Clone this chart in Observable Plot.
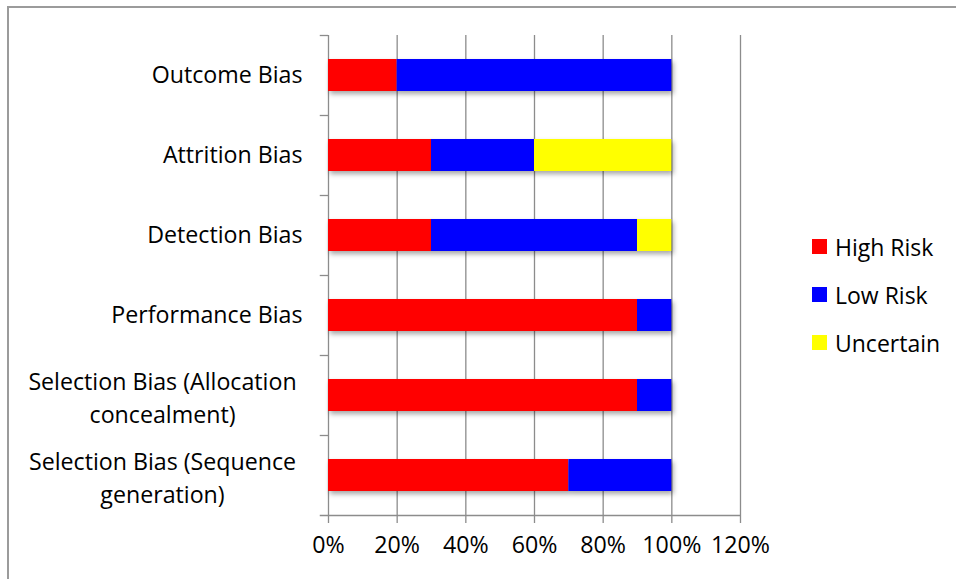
<!DOCTYPE html>
<html>
<head>
<meta charset="utf-8">
<script src="https://cdn.jsdelivr.net/npm/d3@7"></script>
<script src="https://cdn.jsdelivr.net/npm/@observablehq/plot@0.6"></script>
<style>
  html, body { margin: 0; padding: 0; background: #fff; }
  #chart { position: relative; width: 956px; height: 579px; overflow: hidden; font-family: "Open Sans", sans-serif; color: #000; }
  #frame { position: absolute; left: 7px; top: 6px; width: 1200px; height: 1200px; border: 2px solid #9b9b9b; box-sizing: border-box; pointer-events: none; }
  #plot { position: absolute; left: 0; top: 0; }
  #legend { position: absolute; left: 812px; top: 239px; font-size: 23px; }
  .item { display: flex; align-items: center; height: 15px; margin-bottom: 33px; white-space: nowrap; }
  .swatch { width: 15px; height: 15px; margin-right: 8px; flex: none; }
</style>
</head>
<body>
<div id="chart">
  <div id="frame"></div>
  <div id="plot"></div>
  <div id="legend"></div>
</div>
<script>
// Risk-of-bias domains, top to bottom
const domains = [
  "Outcome Bias",
  "Attrition Bias",
  "Detection Bias",
  "Performance Bias",
  "Selection Bias (Allocation\nconcealment)",
  "Selection Bias (Sequence\ngeneration)"
];

// Share of studies in each judgement, per domain
const highRisk  = [0.2, 0.3, 0.3, 0.9, 0.9, 0.7];
const lowRisk   = [0.8, 0.3, 0.6, 0.1, 0.1, 0.3];
const uncertain = [0.0, 0.4, 0.1, 0.0, 0.0, 0.0];

const riskLevels = ["High Risk", "Low Risk", "Uncertain"];
const riskColors = ["#ff0000", "#0000ff", "#ffff00"];

const xTicks = [0, 0.2, 0.4, 0.6, 0.8, 1.0, 1.2];

// Long table for the stacked bars
const series = [highRisk, lowRisk, uncertain];
const rows = [];
domains.forEach((domain, i) => {
  riskLevels.forEach((level, j) => {
    rows.push({domain, level, value: series[j][i]});
  });
});

const fontSize = 23.2;
const gridColor = "#8c8c8c";
const multiLine = domains.filter(d => d.includes("\n"));
const singleLine = domains.filter(d => !d.includes("\n"));

const chart = Plot.plot({
  width: 956,
  height: 579,
  marginLeft: 328,
  marginRight: 216,
  marginTop: 35,
  marginBottom: 64,
  style: {fontFamily: "'Open Sans', sans-serif", fontSize: fontSize + "px", color: "#000", background: "transparent"},
  x: {domain: [0, 1.2], axis: null},
  y: {domain: domains, axis: null, paddingInner: 0.6, paddingOuter: 0.3},
  color: {domain: riskLevels, range: riskColors},
  marks: [
    // vertical gridlines, extended below the axis as tick marks
    Plot.ruleX(xTicks, {x: d => d, stroke: gridColor, strokeWidth: 1.3, insetBottom: -8}),
    // category boundary ticks on the left axis
    Plot.ruleY(domains, {y: d => d, dy: -40, x1: -0.024, x2: 0, stroke: gridColor, strokeWidth: 1.3}),
    // horizontal axis line
    Plot.ruleY([domains[domains.length - 1]], {y: d => d, dy: 40, x1: -0.024, x2: 1.2, stroke: gridColor, strokeWidth: 1.3}),
    // stacked bars
    Plot.barX(rows, Plot.stackX({y: "domain", x: "value", fill: "level", order: riskLevels})),
    // x tick labels
    Plot.text(xTicks, {x: d => d, frameAnchor: "bottom", dy: 37, text: d => d3.format(".0%")(d), fontSize, fill: "#000"}),
    // category labels
    Plot.text(singleLine, {y: d => d, text: d => d, frameAnchor: "left", dx: -26, textAnchor: "end", fontSize, fill: "#000"}),
    Plot.text(multiLine, {y: d => d, text: d => d, frameAnchor: "left", dx: -166, textAnchor: "middle", lineHeight: 1.42, fontSize, fill: "#000"})
  ]
});

// soft shadow under the bars
chart.querySelectorAll('g[aria-label="bar"]').forEach(g => {
  g.style.filter = "drop-shadow(2px 3px 2.5px rgba(0,0,0,0.35))";
});

document.getElementById("plot").appendChild(chart);

// legend
const legend = document.getElementById("legend");
riskLevels.forEach((level, i) => {
  const item = document.createElement("div");
  item.className = "item";
  const sw = document.createElement("span");
  sw.className = "swatch";
  sw.style.background = riskColors[i];
  const label = document.createElement("span");
  label.textContent = level;
  item.appendChild(sw);
  item.appendChild(label);
  legend.appendChild(item);
});
</script>
</body>
</html>
